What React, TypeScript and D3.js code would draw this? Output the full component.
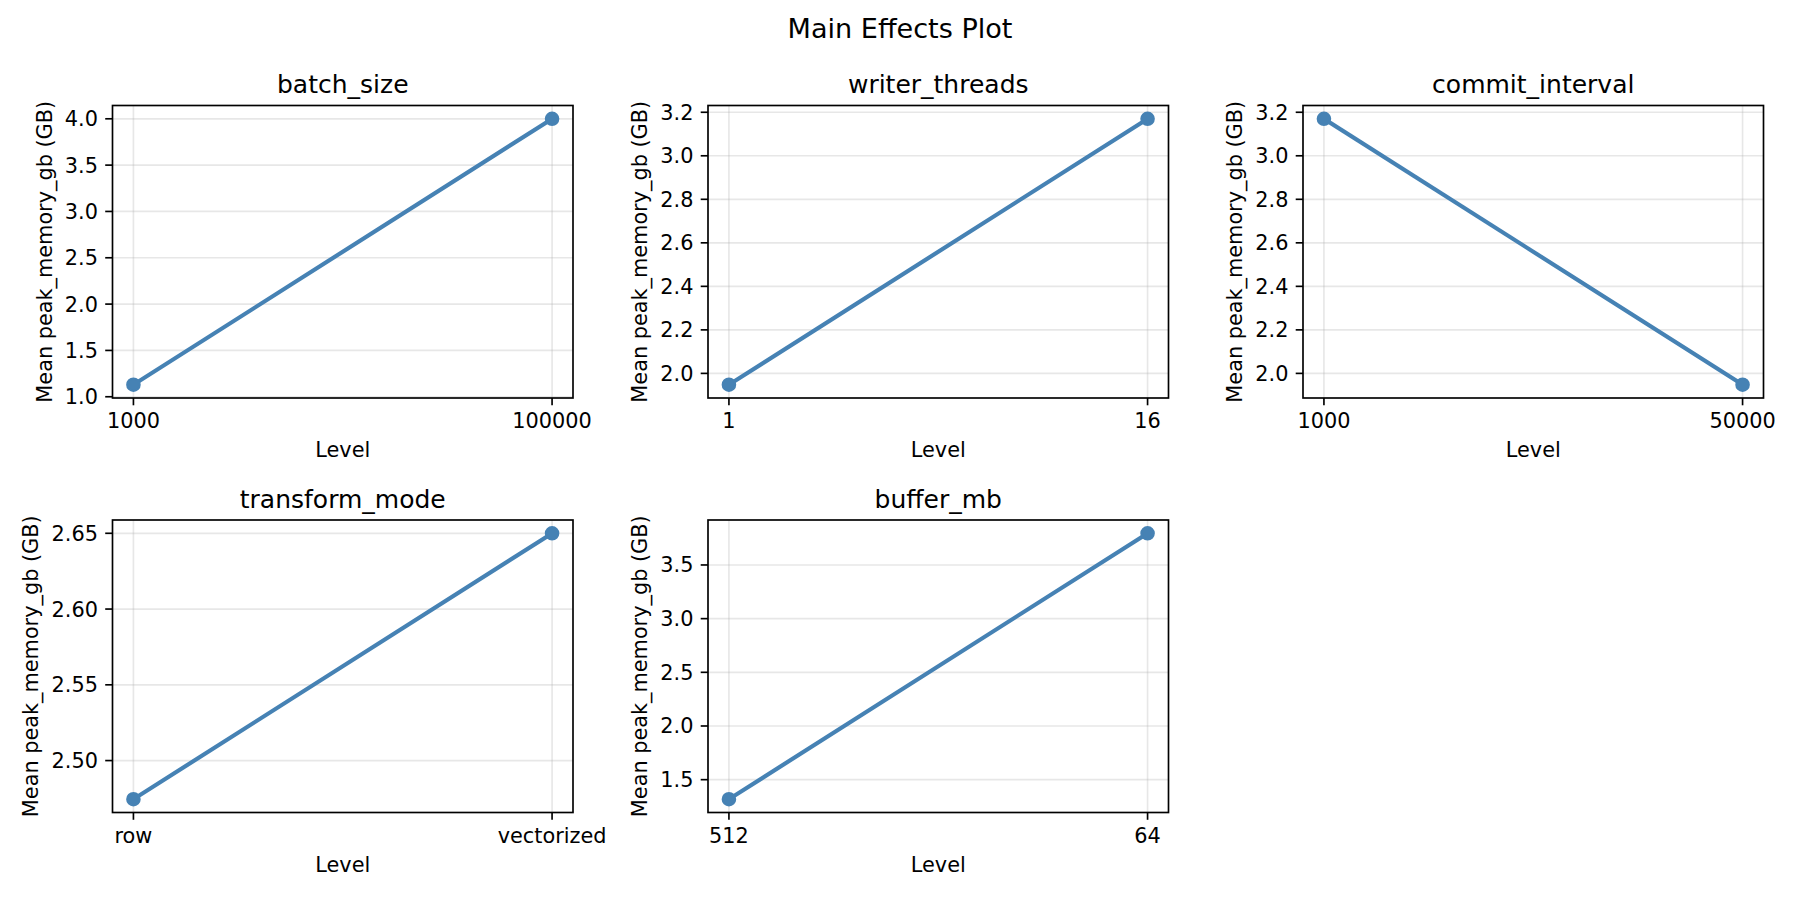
import React, { useEffect, useRef } from 'react';
import * as d3 from 'd3';

// factor names, in subplot order
const factors = ['batch_size', 'writer_threads', 'commit_interval', 'transform_mode', 'buffer_mb'];

// levels (x tick labels) per factor
const batchSizeLevels = ['1000', '100000'];
const writerThreadsLevels = ['1', '16'];
const commitIntervalLevels = ['1000', '50000'];
const transformModeLevels = ['row', 'vectorized'];
const bufferMbLevels = ['512', '64'];

// mean peak memory (GB) per level
const batchSizeMeans = [1.13, 4.0];
const writerThreadsMeans = [1.948, 3.17];
const commitIntervalMeans = [3.17, 1.948];
const transformModeMeans = [2.4745, 2.65];
const bufferMbMeans = [1.318, 3.795];

// y tick labels per factor
const batchSizeTicks = ['1.0', '1.5', '2.0', '2.5', '3.0', '3.5', '4.0'];
const writerThreadsTicks = ['2.0', '2.2', '2.4', '2.6', '2.8', '3.0', '3.2'];
const commitIntervalTicks = ['2.0', '2.2', '2.4', '2.6', '2.8', '3.0', '3.2'];
const transformModeTicks = ['2.50', '2.55', '2.60', '2.65'];
const bufferMbTicks = ['1.5', '2.0', '2.5', '3.0', '3.5'];

const levelsList = [batchSizeLevels, writerThreadsLevels, commitIntervalLevels, transformModeLevels, bufferMbLevels];
const meansList = [batchSizeMeans, writerThreadsMeans, commitIntervalMeans, transformModeMeans, bufferMbMeans];
const ticksList = [batchSizeTicks, writerThreadsTicks, commitIntervalTicks, transformModeTicks, bufferMbTicks];

const W = 1800;
const H = 900;
const FONT = '"DejaVu Sans", sans-serif';
const PT = 150 / 72;

export default function App() {
    const svgRef = useRef<SVGSVGElement>(null);

    useEffect(() => {
        if (!svgRef.current) return;
        const svg = d3.select(svgRef.current);
        svg.selectAll('*').remove();

        svg.append('rect').attr('width', W).attr('height', H).attr('fill', 'white');

        // suptitle
        svg.append('text')
            .attr('x', W / 2)
            .attr('y', 38.3)
            .attr('text-anchor', 'middle')
            .attr('font-size', 13 * PT)
            .attr('font-family', FONT)
            .attr('fill', 'black')
            .text('Main Effects Plot');

        const colLeft = [112.5, 708, 1303];
        const rowTop = [105.5, 520];
        const pw = 460.5;
        const ph = 292.5;
        const tickLen = 3.5 * PT;
        const tickPad = 3.5 * PT;
        const lw = 0.8 * PT;

        factors.forEach((name, i) => {
            const col = i % 3;
            const row = Math.floor(i / 3);
            const levels = levelsList[i];
            const means = meansList[i];
            const ticks = ticksList[i];

            const g = svg.append('g').attr('transform', `translate(${colLeft[col]},${rowTop[row]})`);

            const x = d3.scaleLinear().domain([-0.05, levels.length - 1 + 0.05]).range([0, pw]);
            const lo = d3.min(means)!;
            const hi = d3.max(means)!;
            const m = (hi - lo) * 0.05;
            const y = d3.scaleLinear().domain([lo - m, hi + m]).range([ph, 0]);

            // grid
            g.append('g').selectAll('line')
                .data(levels)
                .join('line')
                .attr('x1', (_, j) => x(j)).attr('x2', (_, j) => x(j))
                .attr('y1', 0).attr('y2', ph)
                .attr('stroke', '#b0b0b0').attr('stroke-opacity', 0.3).attr('stroke-width', lw);
            g.append('g').selectAll('line')
                .data(ticks)
                .join('line')
                .attr('x1', 0).attr('x2', pw)
                .attr('y1', d => y(+d)).attr('y2', d => y(+d))
                .attr('stroke', '#b0b0b0').attr('stroke-opacity', 0.3).attr('stroke-width', lw);

            // line + markers
            const line = d3.line<number>().x((_, j) => x(j)).y(d => y(d));
            g.append('path')
                .datum(means)
                .attr('d', line)
                .attr('fill', 'none')
                .attr('stroke', '#4682b4')
                .attr('stroke-width', 2 * PT)
                .attr('stroke-linecap', 'square');
            g.append('g').selectAll('circle')
                .data(means)
                .join('circle')
                .attr('cx', (_, j) => x(j))
                .attr('cy', d => y(d))
                .attr('r', 3 * PT)
                .attr('fill', '#4682b4')
                .attr('stroke', '#4682b4')
                .attr('stroke-width', PT);

            // spines
            g.append('rect')
                .attr('width', pw).attr('height', ph)
                .attr('fill', 'none').attr('stroke', 'black').attr('stroke-width', lw);

            // x ticks
            const xt = g.append('g');
            xt.selectAll('line')
                .data(levels)
                .join('line')
                .attr('x1', (_, j) => x(j)).attr('x2', (_, j) => x(j))
                .attr('y1', ph).attr('y2', ph + tickLen)
                .attr('stroke', 'black').attr('stroke-width', lw);
            xt.selectAll('text')
                .data(levels)
                .join('text')
                .attr('x', (_, j) => x(j))
                .attr('y', ph + 30)
                .attr('text-anchor', 'middle')
                .attr('font-size', 10 * PT)
                .attr('font-family', FONT)
                .attr('fill', 'black')
                .text(d => d);

            // y ticks
            const yt = g.append('g');
            yt.selectAll('line')
                .data(ticks)
                .join('line')
                .attr('x1', -tickLen).attr('x2', 0)
                .attr('y1', d => y(+d)).attr('y2', d => y(+d))
                .attr('stroke', 'black').attr('stroke-width', lw);
            const labels = yt.selectAll('text')
                .data(ticks)
                .join('text')
                .attr('x', -tickLen - tickPad)
                .attr('y', d => y(+d))
                .attr('dy', '0.36em')
                .attr('text-anchor', 'end')
                .attr('font-size', 10 * PT)
                .attr('font-family', FONT)
                .attr('fill', 'black')
                .text(d => d);

            let maxW = 0;
            labels.each(function () {
                maxW = Math.max(maxW, (this as SVGTextElement).getBBox().width);
            });

            // axis labels
            g.append('text')
                .attr('x', pw / 2)
                .attr('y', ph + 59)
                .attr('text-anchor', 'middle')
                .attr('font-size', 10 * PT)
                .attr('font-family', FONT)
                .attr('fill', 'black')
                .text('Level');

            const ylx = -tickLen - tickPad - maxW - 4 * PT - 0.236 * 10 * PT;
            g.append('text')
                .attr('transform', `translate(${ylx},${ph / 2}) rotate(-90)`)
                .attr('text-anchor', 'middle')
                .attr('font-size', 10 * PT)
                .attr('font-family', FONT)
                .attr('fill', 'black')
                .text('Mean peak_memory_gb (GB)');

            // title
            g.append('text')
                .attr('x', pw / 2)
                .attr('y', -6 * PT)
                .attr('text-anchor', 'middle')
                .attr('font-size', 12 * PT)
                .attr('font-family', FONT)
                .attr('fill', 'black')
                .text(name);
        });
    }, []);

    return (
        <svg
            ref={svgRef}
            width={W}
            height={H}
            style={{ position: 'absolute', left: 0, top: 0, display: 'block' }}
        />
    );
}
